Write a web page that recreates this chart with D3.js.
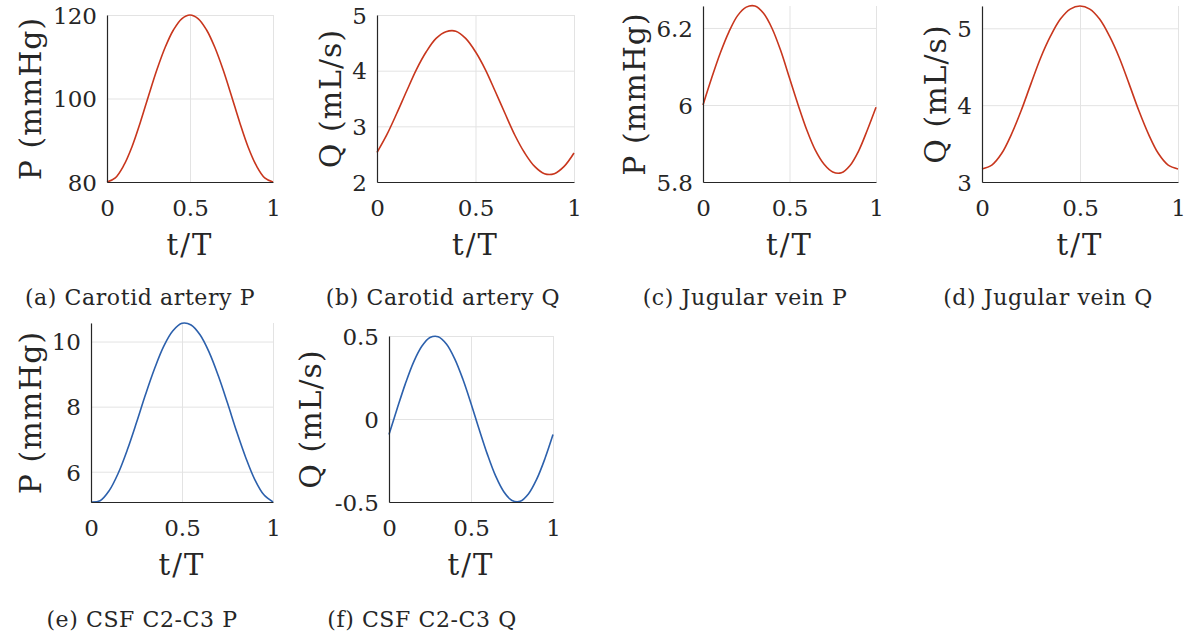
<!DOCTYPE html>
<html lang="en">
	<head>
		<meta charset="utf-8">
		<title>Boundary waveforms</title>
		<script type="text/javascript" src="https://d3js.org/d3.v7.min.js"></script>
		<style type="text/css">
			body { margin: 0; background: #fff; }
			text { font-family: "DejaVu Serif", "Liberation Serif", serif; fill: #262626; }
		</style>
	</head>
	<body>
		<div id="s"></div>
		<script type="text/javascript">

			//Normalised time samples (t/T)
			var tSamples = [0, 0.05, 0.1, 0.15, 0.2, 0.25, 0.3, 0.35, 0.4, 0.45, 0.5,
			                0.55, 0.6, 0.65, 0.7, 0.75, 0.8, 0.85, 0.9, 0.95, 1];

			//Values, one array per panel
			var carotidP = [80, 81.0, 83.9, 88.4, 94.2, 100.6, 106.8, 112.2, 116.4, 119.1, 120,
			                119.1, 116.4, 112.2, 106.8, 100.6, 94.2, 88.4, 83.9, 81.0, 80];
			var carotidQ = [2.53, 2.85, 3.23, 3.63, 4.02, 4.34, 4.58, 4.70, 4.71, 4.58, 4.34,
			                4.02, 3.63, 3.23, 2.84, 2.52, 2.28, 2.15, 2.15, 2.28, 2.52];
			var jugularP = [6.00, 6.07, 6.135, 6.19, 6.232, 6.254, 6.257, 6.238, 6.198, 6.14, 6.07,
			                6.00, 5.935, 5.882, 5.846, 5.826, 5.824, 5.843, 5.881, 5.935, 5.994];
			var jugularQ = [3.17, 3.22, 3.37, 3.62, 3.93, 4.28, 4.62, 4.90, 5.12, 5.25, 5.29,
			                5.25, 5.12, 4.90, 4.62, 4.28, 3.93, 3.62, 3.37, 3.22, 3.17];
			var csfP = [5.07, 5.11, 5.42, 5.96, 6.68, 7.51, 8.38, 9.18, 9.86, 10.33, 10.56,
			            10.51, 10.20, 9.66, 8.94, 8.11, 7.24, 6.44, 5.76, 5.29, 5.07];
			var csfQ = [-0.094, 0.063, 0.213, 0.343, 0.438, 0.491, 0.496, 0.452, 0.364, 0.241, 0.094,
			            -0.063, -0.213, -0.343, -0.438, -0.491, -0.496, -0.452, -0.364, -0.241, -0.094];

			//Axis ranges and tick labels
			var xTicks = [0, 0.5, 1];
			var yDomains = [[80, 120], [2, 5], [5.8, 6.257], [3, 5.29], [5.07, 10.57], [-0.5, 0.5]];
			var yTicks = [[80, 100, 120], [2, 3, 4, 5], [5.8, 6, 6.2], [3, 4, 5], [6, 8, 10], [-0.5, 0, 0.5]];
			var yLabels = ["P (mmHg)", "Q (mL/s)", "P (mmHg)", "Q (mL/s)", "P (mmHg)", "Q (mL/s)"];
			var captions = ["(a) Carotid artery P", "(b) Carotid artery Q", "(c) Jugular vein P",
			                "(d) Jugular vein Q", "(e) CSF C2-C3 P", "(f) CSF C2-C3 Q"];
			var series = [carotidP, carotidQ, jugularP, jugularQ, csfP, csfQ];

			var red = "#c8361d";
			var blue = "#2c60ac";
			var colors = [red, red, red, red, blue, blue];

			//Where each panel sits on the page
			var boxes = [
				{l: 107, r: 273, t: 15, b: 182, ylx: 30, capx: 140, capy: 305},
				{l: 377, r: 574, t: 15, b: 182, ylx: 330, capx: 443, capy: 305},
				{l: 703, r: 876, t: 6, b: 182, ylx: 634, capx: 745, capy: 305},
				{l: 982, r: 1178, t: 6, b: 182, ylx: 935, capx: 1048, capy: 305},
				{l: 91, r: 273, t: 323, b: 502, ylx: 30, capx: 142, capy: 627},
				{l: 389, r: 553, t: 336, b: 502, ylx: 310, capx: 422, capy: 627}
			];

			var w = 1194;
			var h = 641;

			var svg = d3.select("#s")
						.append("svg")
						.attr("width", w)
						.attr("height", h);

			for (var i = 0; i < series.length; i++) {
				drawPanel(i);
			}

			function drawPanel(i) {
				var box = boxes[i];
				var pw = box.r - box.l;
				var ph = box.b - box.t;

				var x = d3.scaleLinear().domain([0, 1]).range([0, pw]);
				var y = d3.scaleLinear().domain(yDomains[i]).range([ph, 0]);

				var g = svg.append("g")
							.attr("transform", "translate(" + box.l + "," + box.t + ")");

				//Grid lines
				g.append("g")
				 .attr("class", "grid")
				 .call(d3.axisLeft(y).tickValues(yTicks[i]).tickSize(-pw).tickFormat(""))
				 .call(function(a) { a.select(".domain").remove(); });
				g.append("g")
				 .attr("class", "grid")
				 .attr("transform", "translate(0," + ph + ")")
				 .call(d3.axisBottom(x).tickValues(xTicks).tickSize(-ph).tickFormat(""))
				 .call(function(a) { a.select(".domain").remove(); });
				g.selectAll(".grid line")
				 .attr("stroke", "#e3e3e3")
				 .attr("stroke-width", 1);

				//Curve
				var line = d3.line()
							 .x(function(d, k) { return x(tSamples[k]); })
							 .y(function(d) { return y(d); })
							 .curve(d3.curveCatmullRom);
				g.append("path")
				 .datum(series[i])
				 .attr("d", line)
				 .attr("fill", "none")
				 .attr("stroke", colors[i])
				 .attr("stroke-width", 1.6);

				//Axes
				var yAxis = g.append("g")
							 .call(d3.axisLeft(y).tickValues(yTicks[i]).tickSize(0).tickPadding(10)
							 .tickFormat(function(d) { return String(d); }));
				var xAxis = g.append("g")
							 .attr("transform", "translate(0," + ph + ")")
							 .call(d3.axisBottom(x).tickValues(xTicks).tickSize(0).tickPadding(17)
							 .tickFormat(function(d) { return String(d); }));
				[yAxis, xAxis].forEach(function(a) {
					a.select(".domain").attr("stroke", "#262626").attr("stroke-width", 1.2);
					a.selectAll("text")
					 .style("font-family", "'DejaVu Serif', serif")
					 .style("font-size", "23px")
					 .attr("fill", "#262626");
				});
				yAxis.selectAll("text").attr("dy", "0.36em");
				xAxis.selectAll("text").attr("dy", "0.72em");

				//Axis titles
				g.append("text")
				 .attr("x", pw / 2)
				 .attr("y", ph + 73)
				 .attr("text-anchor", "middle")
				 .style("font-size", "29px")
				 .style("letter-spacing", "2px")
				 .text("t/T");
				g.append("text")
				 .attr("transform", "translate(" + (box.ylx - box.l) + "," + (ph / 2) + ") rotate(-90)")
				 .attr("text-anchor", "middle")
				 .attr("dy", "0.35em")
				 .style("font-size", "30px")
				 .style("letter-spacing", "1px")
				 .text(yLabels[i]);

				//Sub-figure caption
				svg.append("text")
				   .attr("x", box.capx)
				   .attr("y", box.capy)
				   .attr("text-anchor", "middle")
				   .style("font-size", "22px")
				   .style("letter-spacing", "0.6px")
				   .text(captions[i]);
			}
		</script>
	</body>
</html>
